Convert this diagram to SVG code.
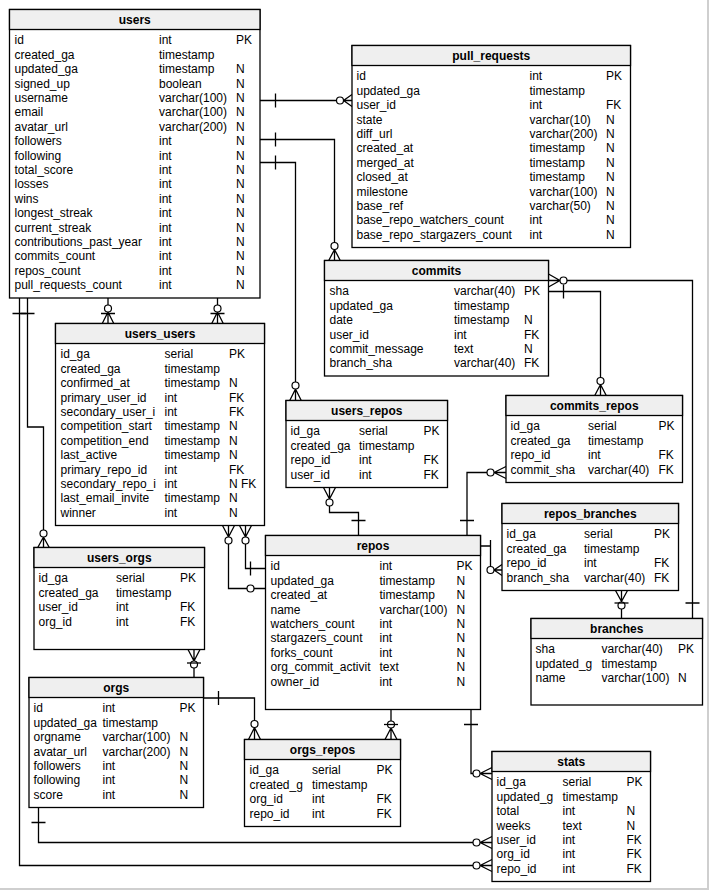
<svg xmlns="http://www.w3.org/2000/svg" width="713" height="892" viewBox="0 0 713 892">
<style>
.box{fill:#fff;stroke:#000;stroke-width:1.3}
.hd{fill:#efefef;stroke:#000;stroke-width:1.3}
text{font-family:"Liberation Sans",Arial,sans-serif;font-size:12px;fill:#000}
.ti{font-weight:bold;text-anchor:middle}
.c{fill:none;stroke:#000;stroke-width:1.3}
.o{fill:#fff;stroke:#000;stroke-width:1.2}
.frame{stroke:#cfcfcf;stroke-width:2;fill:none}
</style>
<rect x="0" y="0" width="713" height="892" fill="#fff"/>
<path class="frame" d="M708,0 V889 H0"/>

<g id="connectors">
  <!-- users -> pull_requests -->
  <path class="c" d="M260,100.5 H352 M275.5,93.5 V107.5 M343.5,100.5 L352,94.5 M343.5,100.5 L352,106.5"/>
  <circle class="o" cx="340" cy="100.5" r="3.5"/>
  <!-- users -> commits -->
  <path class="c" d="M260,139.5 H334.5 V261 M275.5,132.5 V146.5 M334.5,249.5 L328.5,261 M334.5,249.5 L340.5,261"/>
  <circle class="o" cx="334.5" cy="246" r="3.5"/>
  <!-- users -> users_repos -->
  <path class="c" d="M260,162.5 H295.5 V401 M275.5,155.5 V169.5 M295.5,389 L289.5,401 M295.5,389 L301.5,401"/>
  <circle class="o" cx="295.5" cy="385.5" r="3.5"/>
  <!-- users -> users_users (primary) -->
  <path class="c" d="M108,298 V324 M101,313.5 H115 M108,312 L102,324 M108,312 L114,324"/>
  <circle class="o" cx="108" cy="308.5" r="3.5"/>
  <!-- users -> users_users (secondary) -->
  <path class="c" d="M217.5,298 V324 M210.5,313.5 H224.5 M217.5,312 L211.5,324 M217.5,312 L223.5,324"/>
  <circle class="o" cx="217.5" cy="308.5" r="3.5"/>
  <!-- users -> users_orgs -->
  <path class="c" d="M27.5,298 V427 H43.5 V548 M20.5,313.5 H34.5 M43.5,537 L37.5,548 M43.5,537 L49.5,548"/>
  <circle class="o" cx="43.5" cy="533.5" r="3.5"/>
  <!-- users -> stats -->
  <path class="c" d="M19.5,298 V865.5 H492 M12.5,313.5 H26.5 M480,865.5 L492,859.5 M480,865.5 L492,871.5"/>
  <circle class="o" cx="476.5" cy="865.5" r="3.5"/>
  <!-- orgs -> stats -->
  <path class="c" d="M38.5,807.5 V842.5 H492 M31.5,822.5 H45.5 M480,842.5 L492,836.5 M480,842.5 L492,848.5"/>
  <circle class="o" cx="476.5" cy="842.5" r="3.5"/>
  <!-- orgs -> orgs_repos -->
  <path class="c" d="M203.5,698 H254.5 V739.5 M218.5,691 V705 M254.5,727.5 L248.5,739.5 M254.5,727.5 L260.5,739.5"/>
  <circle class="o" cx="254.5" cy="724" r="3.5"/>
  <!-- repos -> orgs_repos -->
  <path class="c" d="M391,709.5 V739.5 M391,728 L385,739.5 M391,728 L397,739.5"/>
  <circle class="o" cx="391" cy="724.5" r="3.5"/>
  <path class="c" d="M384,724.5 H398"/>
  <!-- repos -> stats -->
  <path class="c" d="M471,709.5 V773.5 H492 M464,724.5 H478 M480,773.5 L492,767.5 M480,773.5 L492,779.5"/>
  <circle class="o" cx="476.5" cy="773.5" r="3.5"/>
  <!-- repos -> users_users (primary_repo_id) -->
  <path class="c" d="M245.5,525.5 V568.5 H265.5 M250.5,561.5 V575.5 M245.5,537 L239.5,525.5 M245.5,537 L251.5,525.5"/>
  <circle class="o" cx="245.5" cy="540.5" r="3.5"/>
  <!-- repos -> users_users (secondary_repo_id) -->
  <path class="c" d="M228.5,525.5 V588.5 H265.5 M228.5,537 L222.5,525.5 M228.5,537 L234.5,525.5"/>
  <circle class="o" cx="228.5" cy="540.5" r="3.5"/>
  <circle class="o" cx="250.5" cy="588.5" r="3.5"/>
  <!-- repos -> users_repos -->
  <path class="c" d="M329.5,487.5 V512.5 H358.5 V536 M351.5,520.5 H365.5 M329.5,499 L323.5,487.5 M329.5,499 L335.5,487.5"/>
  <circle class="o" cx="329.5" cy="502.5" r="3.5"/>
  <!-- repos -> commits_repos -->
  <path class="c" d="M506,472.5 H467 V536 M460,520.5 H474 M494,472.5 L506,466.5 M494,472.5 L506,478.5"/>
  <circle class="o" cx="490.5" cy="472.5" r="3.5"/>
  <!-- commits -> commits_repos -->
  <path class="c" d="M548.5,291.5 H600.5 V396 M563.5,284.5 V298.5 M600.5,384.5 L594.5,396 M600.5,384.5 L606.5,396"/>
  <circle class="o" cx="600.5" cy="381" r="3.5"/>
  <!-- branches -> commits -->
  <path class="c" d="M548.5,280.5 H692.5 V619 M685.5,603 H699.5 M560,280.5 L548.5,274 M560,280.5 L548.5,287"/>
  <circle class="o" cx="563.5" cy="280.5" r="3.5"/>
  <!-- repos -> repos_branches -->
  <path class="c" d="M480.5,546 H490.5 V566.5 M490.5,540 V552 M494,570 H502 M494,570 L502,564.5 M494,570 L502,575.5"/>
  <circle class="o" cx="490.5" cy="570" r="3.5"/>
  <!-- branches -> repos_branches -->
  <path class="c" d="M621.5,590.5 V619 M621.5,601.5 L615.5,590.5 M621.5,601.5 L627.5,590.5"/>
  <circle class="o" cx="621.5" cy="605.5" r="3.5"/>
  <path class="c" d="M614.5,603 H628.5"/>
  <!-- orgs -> users_orgs -->
  <path class="c" d="M194,649.5 V678 M194,661 L188,649.5 M194,661 L200,649.5"/>
  <circle class="o" cx="194" cy="664.5" r="3.5"/>
  <path class="c" d="M187,663 H201"/>
</g>

<g id="users">
  <rect class="box" x="9.5" y="9.5" width="250.5" height="288.5"/>
  <rect class="hd" x="9.5" y="9.5" width="250.5" height="20"/>
  <text class="ti" x="134.75" y="24">users</text>
  <text y="44.3"><tspan x="14.5">id</tspan><tspan x="159">int</tspan><tspan x="236">PK</tspan></text>
  <text y="58.7"><tspan x="14.5">created_ga</tspan><tspan x="159">timestamp</tspan></text>
  <text y="73.1"><tspan x="14.5">updated_ga</tspan><tspan x="159">timestamp</tspan><tspan x="236">N</tspan></text>
  <text y="87.5"><tspan x="14.5">signed_up</tspan><tspan x="159">boolean</tspan><tspan x="236">N</tspan></text>
  <text y="101.9"><tspan x="14.5">username</tspan><tspan x="159">varchar(100)</tspan><tspan x="236">N</tspan></text>
  <text y="116.3"><tspan x="14.5">email</tspan><tspan x="159">varchar(100)</tspan><tspan x="236">N</tspan></text>
  <text y="130.7"><tspan x="14.5">avatar_url</tspan><tspan x="159">varchar(200)</tspan><tspan x="236">N</tspan></text>
  <text y="145.1"><tspan x="14.5">followers</tspan><tspan x="159">int</tspan><tspan x="236">N</tspan></text>
  <text y="159.5"><tspan x="14.5">following</tspan><tspan x="159">int</tspan><tspan x="236">N</tspan></text>
  <text y="173.9"><tspan x="14.5">total_score</tspan><tspan x="159">int</tspan><tspan x="236">N</tspan></text>
  <text y="188.3"><tspan x="14.5">losses</tspan><tspan x="159">int</tspan><tspan x="236">N</tspan></text>
  <text y="202.7"><tspan x="14.5">wins</tspan><tspan x="159">int</tspan><tspan x="236">N</tspan></text>
  <text y="217.1"><tspan x="14.5">longest_streak</tspan><tspan x="159">int</tspan><tspan x="236">N</tspan></text>
  <text y="231.5"><tspan x="14.5">current_streak</tspan><tspan x="159">int</tspan><tspan x="236">N</tspan></text>
  <text y="245.9"><tspan x="14.5">contributions_past_year</tspan><tspan x="159">int</tspan><tspan x="236">N</tspan></text>
  <text y="260.3"><tspan x="14.5">commits_count</tspan><tspan x="159">int</tspan><tspan x="236">N</tspan></text>
  <text y="274.7"><tspan x="14.5">repos_count</tspan><tspan x="159">int</tspan><tspan x="236">N</tspan></text>
  <text y="289.1"><tspan x="14.5">pull_requests_count</tspan><tspan x="159">int</tspan><tspan x="236">N</tspan></text>
</g>

<g id="pull_requests">
  <rect class="box" x="352" y="45.5" width="278.5" height="202"/>
  <rect class="hd" x="352" y="45.5" width="278.5" height="20"/>
  <text class="ti" x="491.25" y="60">pull_requests</text>
  <text y="80.3"><tspan x="356.5">id</tspan><tspan x="529.5">int</tspan><tspan x="606">PK</tspan></text>
  <text y="94.7"><tspan x="356.5">updated_ga</tspan><tspan x="529.5">timestamp</tspan></text>
  <text y="109.1"><tspan x="356.5">user_id</tspan><tspan x="529.5">int</tspan><tspan x="606">FK</tspan></text>
  <text y="123.5"><tspan x="356.5">state</tspan><tspan x="529.5">varchar(10)</tspan><tspan x="606">N</tspan></text>
  <text y="137.9"><tspan x="356.5">diff_url</tspan><tspan x="529.5">varchar(200)</tspan><tspan x="606">N</tspan></text>
  <text y="152.3"><tspan x="356.5">created_at</tspan><tspan x="529.5">timestamp</tspan><tspan x="606">N</tspan></text>
  <text y="166.7"><tspan x="356.5">merged_at</tspan><tspan x="529.5">timestamp</tspan><tspan x="606">N</tspan></text>
  <text y="181.1"><tspan x="356.5">closed_at</tspan><tspan x="529.5">timestamp</tspan><tspan x="606">N</tspan></text>
  <text y="195.5"><tspan x="356.5">milestone</tspan><tspan x="529.5">varchar(100)</tspan><tspan x="606">N</tspan></text>
  <text y="209.9"><tspan x="356.5">base_ref</tspan><tspan x="529.5">varchar(50)</tspan><tspan x="606">N</tspan></text>
  <text y="224.3"><tspan x="356.5">base_repo_watchers_count</tspan><tspan x="529.5">int</tspan><tspan x="606">N</tspan></text>
  <text y="238.7"><tspan x="356.5">base_repo_stargazers_count</tspan><tspan x="529.5">int</tspan><tspan x="606">N</tspan></text>
</g>

<g id="commits">
  <rect class="box" x="324.5" y="260.5" width="224" height="115.5"/>
  <rect class="hd" x="324.5" y="260.5" width="224" height="20"/>
  <text class="ti" x="436.5" y="275">commits</text>
  <text y="295.3"><tspan x="329.5">sha</tspan><tspan x="454">varchar(40)</tspan><tspan x="524">PK</tspan></text>
  <text y="309.7"><tspan x="329.5">updated_ga</tspan><tspan x="454">timestamp</tspan></text>
  <text y="324.1"><tspan x="329.5">date</tspan><tspan x="454">timestamp</tspan><tspan x="524">N</tspan></text>
  <text y="338.5"><tspan x="329.5">user_id</tspan><tspan x="454">int</tspan><tspan x="524">FK</tspan></text>
  <text y="352.9"><tspan x="329.5">commit_message</tspan><tspan x="454">text</tspan><tspan x="524">N</tspan></text>
  <text y="367.3"><tspan x="329.5">branch_sha</tspan><tspan x="454">varchar(40)</tspan><tspan x="524">FK</tspan></text>
</g>

<g id="users_users">
  <rect class="box" x="55.5" y="323.5" width="209" height="202"/>
  <rect class="hd" x="55.5" y="323.5" width="209" height="20"/>
  <text class="ti" x="160" y="338">users_users</text>
  <text y="358.3"><tspan x="60.5">id_ga</tspan><tspan x="164.5">serial</tspan><tspan x="229">PK</tspan></text>
  <text y="372.7"><tspan x="60.5">created_ga</tspan><tspan x="164.5">timestamp</tspan></text>
  <text y="387.1"><tspan x="60.5">confirmed_at</tspan><tspan x="164.5">timestamp</tspan><tspan x="229">N</tspan></text>
  <text y="401.5"><tspan x="60.5">primary_user_id</tspan><tspan x="164.5">int</tspan><tspan x="229">FK</tspan></text>
  <text y="415.9"><tspan x="60.5">secondary_user_i</tspan><tspan x="164.5">int</tspan><tspan x="229">FK</tspan></text>
  <text y="430.3"><tspan x="60.5">competition_start</tspan><tspan x="164.5">timestamp</tspan><tspan x="229">N</tspan></text>
  <text y="444.7"><tspan x="60.5">competition_end</tspan><tspan x="164.5">timestamp</tspan><tspan x="229">N</tspan></text>
  <text y="459.1"><tspan x="60.5">last_active</tspan><tspan x="164.5">timestamp</tspan><tspan x="229">N</tspan></text>
  <text y="473.5"><tspan x="60.5">primary_repo_id</tspan><tspan x="164.5">int</tspan><tspan x="229">FK</tspan></text>
  <text y="487.9"><tspan x="60.5">secondary_repo_i</tspan><tspan x="164.5">int</tspan><tspan x="229">N FK</tspan></text>
  <text y="502.3"><tspan x="60.5">last_email_invite</tspan><tspan x="164.5">timestamp</tspan><tspan x="229">N</tspan></text>
  <text y="516.7"><tspan x="60.5">winner</tspan><tspan x="164.5">int</tspan><tspan x="229">N</tspan></text>
</g>

<g id="users_repos">
  <rect class="box" x="286" y="400.5" width="161.5" height="87"/>
  <rect class="hd" x="286" y="400.5" width="161.5" height="20"/>
  <text class="ti" x="366.75" y="415">users_repos</text>
  <text y="435.3"><tspan x="290.5">id_ga</tspan><tspan x="359">serial</tspan><tspan x="423.5">PK</tspan></text>
  <text y="449.7"><tspan x="290.5">created_ga</tspan><tspan x="359">timestamp</tspan></text>
  <text y="464.1"><tspan x="290.5">repo_id</tspan><tspan x="359">int</tspan><tspan x="423.5">FK</tspan></text>
  <text y="478.5"><tspan x="290.5">user_id</tspan><tspan x="359">int</tspan><tspan x="423.5">FK</tspan></text>
</g>

<g id="commits_repos">
  <rect class="box" x="506" y="395.5" width="176.5" height="87"/>
  <rect class="hd" x="506" y="395.5" width="176.5" height="20"/>
  <text class="ti" x="594.25" y="410">commits_repos</text>
  <text y="430.3"><tspan x="510.5">id_ga</tspan><tspan x="588">serial</tspan><tspan x="658.5">PK</tspan></text>
  <text y="444.7"><tspan x="510.5">created_ga</tspan><tspan x="588">timestamp</tspan></text>
  <text y="459.1"><tspan x="510.5">repo_id</tspan><tspan x="588">int</tspan><tspan x="658.5">FK</tspan></text>
  <text y="473.5"><tspan x="510.5">commit_sha</tspan><tspan x="588">varchar(40)</tspan><tspan x="658.5">FK</tspan></text>
</g>

<g id="repos_branches">
  <rect class="box" x="502" y="503.5" width="176.5" height="87"/>
  <rect class="hd" x="502" y="503.5" width="176.5" height="20"/>
  <text class="ti" x="590.25" y="518">repos_branches</text>
  <text y="538.3"><tspan x="506.5">id_ga</tspan><tspan x="584">serial</tspan><tspan x="654">PK</tspan></text>
  <text y="552.7"><tspan x="506.5">created_ga</tspan><tspan x="584">timestamp</tspan></text>
  <text y="567.1"><tspan x="506.5">repo_id</tspan><tspan x="584">int</tspan><tspan x="654">FK</tspan></text>
  <text y="581.5"><tspan x="506.5">branch_sha</tspan><tspan x="584">varchar(40)</tspan><tspan x="654">FK</tspan></text>
</g>

<g id="branches">
  <rect class="box" x="531" y="618.5" width="171.5" height="86.5"/>
  <rect class="hd" x="531" y="618.5" width="171.5" height="20"/>
  <text class="ti" x="616.75" y="633">branches</text>
  <text y="653.3"><tspan x="535.5">sha</tspan><tspan x="601.5">varchar(40)</tspan><tspan x="678">PK</tspan></text>
  <text y="667.7"><tspan x="535.5">updated_g</tspan><tspan x="601.5">timestamp</tspan></text>
  <text y="682.1"><tspan x="535.5">name</tspan><tspan x="601.5">varchar(100)</tspan><tspan x="678">N</tspan></text>
</g>

<g id="repos">
  <rect class="box" x="265.5" y="535.5" width="215" height="174"/>
  <rect class="hd" x="265.5" y="535.5" width="215" height="20"/>
  <text class="ti" x="373" y="550">repos</text>
  <text y="570.3"><tspan x="270.5">id</tspan><tspan x="379.5">int</tspan><tspan x="456.5">PK</tspan></text>
  <text y="584.7"><tspan x="270.5">updated_ga</tspan><tspan x="379.5">timestamp</tspan><tspan x="456.5">N</tspan></text>
  <text y="599.1"><tspan x="270.5">created_at</tspan><tspan x="379.5">timestamp</tspan><tspan x="456.5">N</tspan></text>
  <text y="613.5"><tspan x="270.5">name</tspan><tspan x="379.5">varchar(100)</tspan><tspan x="456.5">N</tspan></text>
  <text y="627.9"><tspan x="270.5">watchers_count</tspan><tspan x="379.5">int</tspan><tspan x="456.5">N</tspan></text>
  <text y="642.3"><tspan x="270.5">stargazers_count</tspan><tspan x="379.5">int</tspan><tspan x="456.5">N</tspan></text>
  <text y="656.7"><tspan x="270.5">forks_count</tspan><tspan x="379.5">int</tspan><tspan x="456.5">N</tspan></text>
  <text y="671.1"><tspan x="270.5">org_commit_activit</tspan><tspan x="379.5">text</tspan><tspan x="456.5">N</tspan></text>
  <text y="685.5"><tspan x="270.5">owner_id</tspan><tspan x="379.5">int</tspan><tspan x="456.5">N</tspan></text>
</g>

<g id="users_orgs">
  <rect class="box" x="34" y="547.5" width="170.5" height="102"/>
  <rect class="hd" x="34" y="547.5" width="170.5" height="20"/>
  <text class="ti" x="119.25" y="562">users_orgs</text>
  <text y="582.3"><tspan x="38.5">id_ga</tspan><tspan x="116">serial</tspan><tspan x="180">PK</tspan></text>
  <text y="596.7"><tspan x="38.5">created_ga</tspan><tspan x="116">timestamp</tspan></text>
  <text y="611.1"><tspan x="38.5">user_id</tspan><tspan x="116">int</tspan><tspan x="180">FK</tspan></text>
  <text y="625.5"><tspan x="38.5">org_id</tspan><tspan x="116">int</tspan><tspan x="180">FK</tspan></text>
</g>

<g id="orgs">
  <rect class="box" x="29" y="677.5" width="174.5" height="130"/>
  <rect class="hd" x="29" y="677.5" width="174.5" height="20"/>
  <text class="ti" x="116.25" y="692">orgs</text>
  <text y="712.3"><tspan x="33.5">id</tspan><tspan x="102.5">int</tspan><tspan x="179.5">PK</tspan></text>
  <text y="726.7"><tspan x="33.5">updated_ga</tspan><tspan x="102.5">timestamp</tspan></text>
  <text y="741.1"><tspan x="33.5">orgname</tspan><tspan x="102.5">varchar(100)</tspan><tspan x="179.5">N</tspan></text>
  <text y="755.5"><tspan x="33.5">avatar_url</tspan><tspan x="102.5">varchar(200)</tspan><tspan x="179.5">N</tspan></text>
  <text y="769.9"><tspan x="33.5">followers</tspan><tspan x="102.5">int</tspan><tspan x="179.5">N</tspan></text>
  <text y="784.3"><tspan x="33.5">following</tspan><tspan x="102.5">int</tspan><tspan x="179.5">N</tspan></text>
  <text y="798.7"><tspan x="33.5">score</tspan><tspan x="102.5">int</tspan><tspan x="179.5">N</tspan></text>
</g>

<g id="orgs_repos">
  <rect class="box" x="244.5" y="739.5" width="156" height="87"/>
  <rect class="hd" x="244.5" y="739.5" width="156" height="20"/>
  <text class="ti" x="322.5" y="754">orgs_repos</text>
  <text y="774.3"><tspan x="249.5">id_ga</tspan><tspan x="312">serial</tspan><tspan x="376.5">PK</tspan></text>
  <text y="788.7"><tspan x="249.5">created_g</tspan><tspan x="312">timestamp</tspan></text>
  <text y="803.1"><tspan x="249.5">org_id</tspan><tspan x="312">int</tspan><tspan x="376.5">FK</tspan></text>
  <text y="817.5"><tspan x="249.5">repo_id</tspan><tspan x="312">int</tspan><tspan x="376.5">FK</tspan></text>
</g>

<g id="stats">
  <rect class="box" x="492" y="751.5" width="158.5" height="130"/>
  <rect class="hd" x="492" y="751.5" width="158.5" height="20"/>
  <text class="ti" x="571.25" y="766">stats</text>
  <text y="786.3"><tspan x="496.5">id_ga</tspan><tspan x="562.5">serial</tspan><tspan x="626.5">PK</tspan></text>
  <text y="800.7"><tspan x="496.5">updated_g</tspan><tspan x="562.5">timestamp</tspan></text>
  <text y="815.1"><tspan x="496.5">total</tspan><tspan x="562.5">int</tspan><tspan x="626.5">N</tspan></text>
  <text y="829.5"><tspan x="496.5">weeks</tspan><tspan x="562.5">text</tspan><tspan x="626.5">N</tspan></text>
  <text y="843.9"><tspan x="496.5">user_id</tspan><tspan x="562.5">int</tspan><tspan x="626.5">FK</tspan></text>
  <text y="858.3"><tspan x="496.5">org_id</tspan><tspan x="562.5">int</tspan><tspan x="626.5">FK</tspan></text>
  <text y="872.7"><tspan x="496.5">repo_id</tspan><tspan x="562.5">int</tspan><tspan x="626.5">FK</tspan></text>
</g>
</svg>
